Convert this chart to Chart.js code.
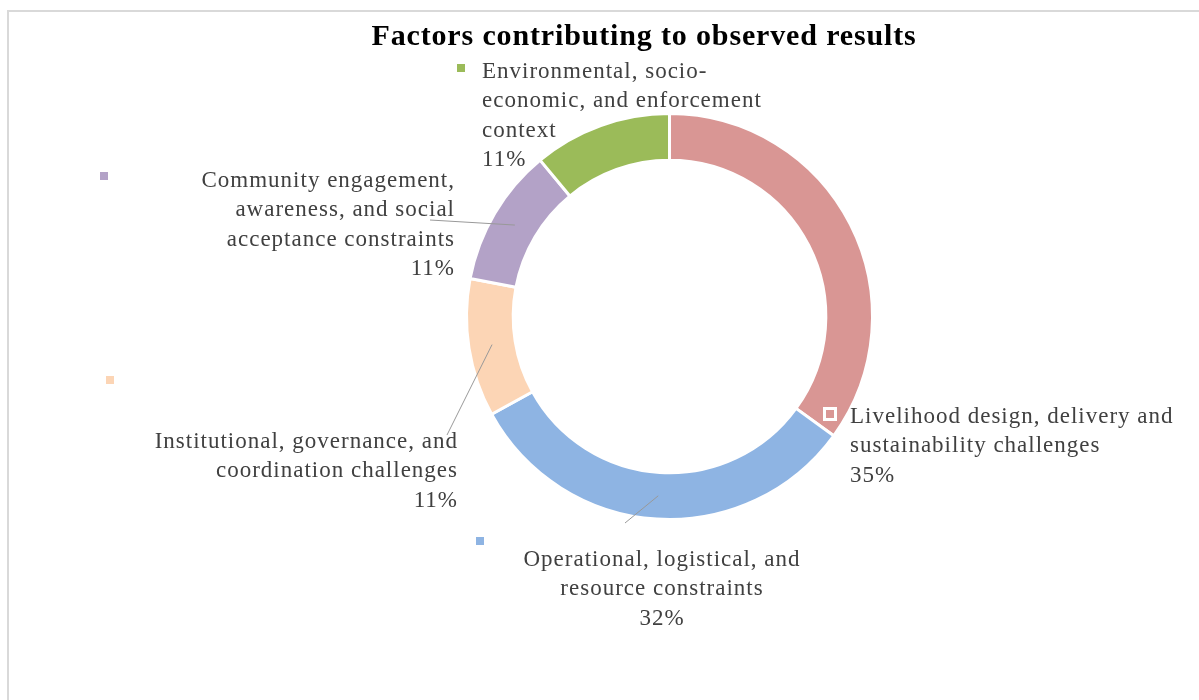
<!DOCTYPE html>
<html>
<head>
<meta charset="utf-8">
<title>Factors contributing to observed results</title>
<script src="https://cdn.jsdelivr.net/npm/chart.js@4.4.1/dist/chart.umd.min.js"></script>
<style>
  html, body { margin: 0; padding: 0; background: #fff; }
  canvas { display: block; }
</style>
</head>
<body>
<canvas id="factors-chart" width="1199" height="700"></canvas>
<script>
/* ===============================
   DATA
================================= */
const TITLE = "Factors contributing to observed results";

const categories = [
  "Livelihood design, delivery and sustainability challenges",
  "Operational, logistical, and resource constraints",
  "Institutional, governance, and coordination challenges",
  "Community engagement, awareness, and social acceptance constraints",
  "Environmental, socio-economic, and enforcement context",
];

// category names as they wrap in the data labels
const labelLines = [
  ["Livelihood design, delivery and", "sustainability challenges"],
  ["Operational, logistical, and", "resource constraints"],
  ["Institutional, governance, and", "coordination challenges"],
  ["Community engagement,", "awareness, and social", "acceptance constraints"],
  ["Environmental, socio-", "economic, and enforcement", "context"],
];

const shares = [35, 32, 11, 11, 11];

const colors = ["#D99694", "#8EB4E3", "#FCD5B5", "#B3A2C7", "#9BBB59"];

/* ===============================
   LABEL LAYOUT
================================= */
const FONT = '"Liberation Serif", "Times New Roman", serif';
const LABEL_SIZE = 23;
const LINE_H = 29.3;

// x / first baseline, text alignment, legend key box, leader start
const labelLayout = [
  { x: 850, y: 423, align: "left",   key: [826, 410], leader: null },
  { x: 662, y: 566, align: "center", key: [476, 537], leader: [625, 523] },
  { x: 458, y: 448, align: "right",  key: [106, 376], leader: [447, 435] },
  { x: 455, y: 187, align: "right",  key: [100, 172], leader: [430, 220] },
  { x: 482, y: 78,  align: "left",   key: [457, 64],  leader: null },
];

/* ===============================
   PLUGIN: frame, title, labels
================================= */
const decorPlugin = {
  id: "decor",
  beforeDraw(chart) {
    const ctx = chart.ctx;
    ctx.save();
    ctx.strokeStyle = "#d9d9d9";
    ctx.lineWidth = 2;
    ctx.strokeRect(8, 11, 1200, 700);
    ctx.restore();
  },
  afterDatasetsDraw(chart) {
    const ctx = chart.ctx;
    const meta = chart.getDatasetMeta(0);
    const total = shares.reduce((a, b) => a + b, 0);

    ctx.save();
    // title
    ctx.fillStyle = "#000";
    ctx.font = "bold 30px " + FONT;
    ctx.letterSpacing = "0.85px";
    ctx.textAlign = "center";
    ctx.textBaseline = "alphabetic";
    ctx.fillText(TITLE, 644, 45);

    meta.data.forEach((arc, i) => {
      const lay = labelLayout[i];

      // leader line to the middle of the slice
      if (lay.leader) {
        const p = arc.getCenterPoint();
        ctx.strokeStyle = "#999";
        ctx.lineWidth = 1;
        ctx.beginPath();
        ctx.moveTo(lay.leader[0], lay.leader[1]);
        ctx.lineTo(p.x, p.y);
        ctx.stroke();
      }

      // legend key with a white rim
      ctx.fillStyle = "#fff";
      ctx.fillRect(lay.key[0] - 3, lay.key[1] - 3, 14, 14);
      ctx.fillStyle = colors[i];
      ctx.fillRect(lay.key[0], lay.key[1], 8, 8);

      // category name + percentage
      const lines = labelLines[i].concat(Math.round(shares[i] / total * 100) + "%");
      ctx.fillStyle = "#404040";
      ctx.font = LABEL_SIZE + "px " + FONT;
      ctx.letterSpacing = "1px";
      ctx.textAlign = lay.align;
      lines.forEach((t, k) => ctx.fillText(t, lay.x, lay.y + k * LINE_H));
    });
    ctx.restore();
  },
};

/* ===============================
   CHART
================================= */
new Chart(document.getElementById("factors-chart"), {
  type: "doughnut",
  data: {
    labels: categories,
    datasets: [
      {
        data: shares,
        backgroundColor: colors,
        borderColor: "#fff",
        borderWidth: 3,
      },
    ],
  },
  options: {
    responsive: false,
    animation: false,
    cutout: "77%",
    layout: {
      padding: { left: 465, right: 325, top: 112, bottom: 179 },
    },
    plugins: {
      legend: { display: false },
      title: { display: false },
      tooltip: { enabled: false },
    },
  },
  plugins: [decorPlugin],
});
</script>
</body>
</html>
